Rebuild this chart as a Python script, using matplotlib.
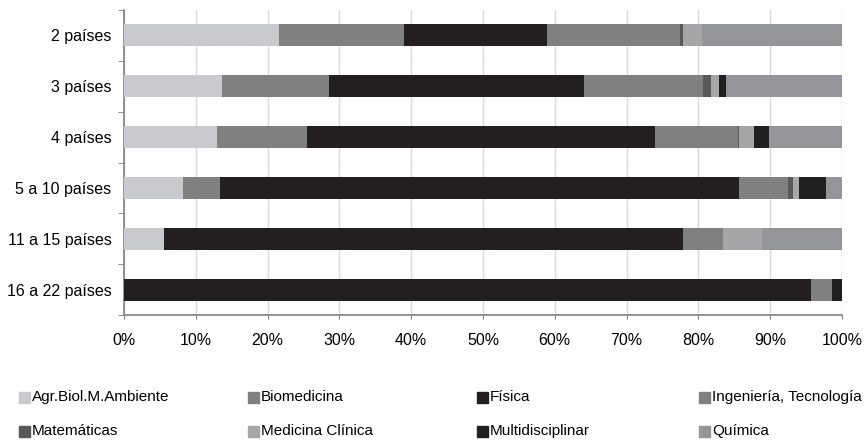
import matplotlib.pyplot as plt
from matplotlib.patches import Rectangle
import numpy as np

plt.rcParams['font.family'] = ['Liberation Sans', 'DejaVu Sans']

groups = ['2 países', '3 países', '4 países', '5 a 10 países', '11 a 15 países', '16 a 22 países']
areas = ['Agr.Biol.M.Ambiente', 'Biomedicina', 'Física', 'Ingeniería, Tecnología',
         'Matemáticas', 'Medicina Clínica', 'Multidisciplinar', 'Química']
colors = ['#c9cacd', '#808080', '#231f20', '#808080', '#58585a', '#a6a6a9', '#1f201f', '#939598']

# share (%) of each area per group, rows follow groups
agr = [21.6, 13.7, 13.0, 8.2, 5.6, 0.0]
bio = [17.4, 14.9, 12.5, 5.2, 0.0, 0.0]
fis = [19.9, 35.5, 48.5, 72.3, 72.3, 95.7]
ing = [18.6, 16.5, 11.5, 6.8, 5.5, 2.9]
mat = [0.4, 1.1, 0.2, 0.7, 0.0, 0.0]
med = [2.6, 1.2, 2.0, 0.8, 5.5, 0.0]
mul = [0.0, 1.0, 2.2, 3.8, 0.0, 1.4]
qui = [19.5, 16.1, 10.1, 2.2, 11.1, 0.0]
series = [agr, bio, fis, ing, mat, med, mul, qui]

fig = plt.figure(figsize=(8.67, 4.41), dpi=100)
ax = fig.add_axes([124 / 867, 1 - 315 / 441, 718 / 867, 305 / 441])

y = np.arange(len(groups))
left = np.zeros(len(groups))
for vals, c in zip(series, colors):
    ax.barh(y, vals, left=left, height=0.43, color=c, zorder=3)
    left += np.array(vals)

ax.set_xlim(0, 100)
ax.set_ylim(len(groups) - 0.5, -0.5)
ax.set_xticks(np.arange(0, 101, 10))
ax.set_xticklabels([f'{v}%' for v in range(0, 101, 10)], fontsize=11.5)
ax.set_yticks(y)
ax.set_yticklabels(groups, fontsize=11.5)
ax.set_yticks(np.arange(-0.5, len(groups), 1), minor=True)
ax.tick_params(axis='y', which='major', length=0, pad=9)
ax.tick_params(axis='y', which='minor', length=4, color='#808080', direction='out')
ax.tick_params(axis='x', length=3, color='#808080', direction='out', pad=10)
ax.grid(axis='x', color='#d9d9d9', lw=1, zorder=0)
for s in ['top', 'right']:
    ax.spines[s].set_visible(False)
for s in ['left', 'bottom']:
    ax.spines[s].set_color('#808080')
    ax.spines[s].set_linewidth(1.2)

# legend, 2 rows x 4 columns
col_x = [19, 248, 477, 699]
row_y = [397, 431]
for i, (name, c) in enumerate(zip(areas, colors)):
    px = col_x[i % 4]
    py = row_y[i // 4]
    fig.patches.append(Rectangle((px / 867, 1 - (py + 5.5) / 441), 11 / 867, 11 / 441,
                                 transform=fig.transFigure, color=c))
    fig.text((px + 13) / 867, 1 - py / 441, name, fontsize=11, va='center', ha='left')

fig.savefig('out.png', dpi=100)
